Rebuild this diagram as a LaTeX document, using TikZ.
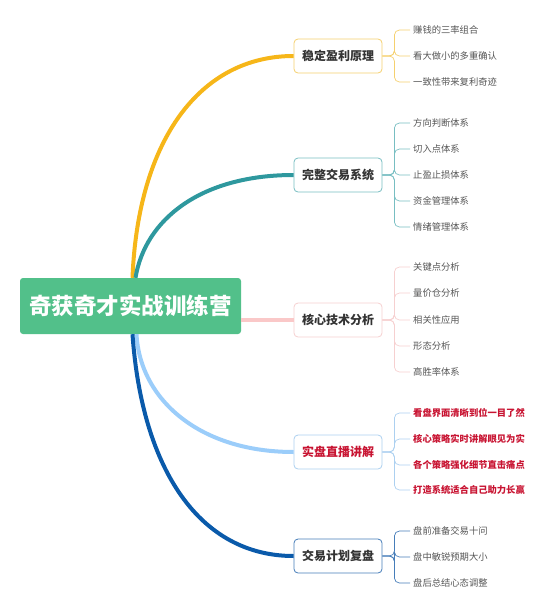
\documentclass[tikz,border=0pt]{standalone}
\usepackage{fontspec}
\setmainfont{Noto Sans CJK SC}
\definecolor{rootgreen}{RGB}{82,192,138}
\definecolor{ambr}{RGB}{246,182,25}
\definecolor{ambrlight}{RGB}{245,208,110}
\definecolor{teal}{RGB}{46,152,158}
\definecolor{teallight}{RGB}{120,190,194}
\definecolor{rose}{RGB}{250,200,200}
\definecolor{roselight}{RGB}{246,208,208}
\definecolor{sky}{RGB}{155,205,250}
\definecolor{skylight}{RGB}{172,208,240}
\definecolor{navy}{RGB}{10,90,170}
\definecolor{navylight}{RGB}{70,125,185}
\definecolor{leafgray}{RGB}{85,85,85}
\definecolor{topicgray}{RGB}{51,51,51}
\definecolor{livered}{RGB}{200,20,50}
\begin{document}
\begin{tikzpicture}[x=1pt,y=-1pt]
        \tikzset{
          rootbox/.style = {shape=rectangle, rounded corners=3pt, fill=rootgreen, text=white,
                            minimum width=221pt, minimum height=56pt, inner sep=0pt,
                            font=\fontsize{22.5}{26}\selectfont\bfseries},
          topic/.style = {shape=rectangle, rounded corners=4pt, draw, line width=0.8pt, fill=white,
                          minimum width=88pt, minimum height=34pt, inner sep=0pt, text=topicgray,
                          font=\fontsize{12}{14}\selectfont\bfseries},
          leaf/.style = {anchor=west, inner sep=3pt, text=leafgray, font=\fontsize{9.3}{11}\selectfont},
          hotleaf/.style = {leaf, text=livered, font=\fontsize{9.3}{11}\selectfont\bfseries},
          bough/.style = {line width=4pt},
          twig/.style = {rounded corners=5pt, line width=0.7pt}
        }

        \useasboundingbox (0, 0) rectangle (552, 614);

        \node[rootbox] (root) at (130.5, 306) {奇获奇才实战训练营};

        \node[topic, draw=ambrlight] (b1) at (338, 56) {稳定盈利原理};
        \node[topic, draw=teallight] (b2) at (338, 175) {完整交易系统};
        \node[topic, draw=roselight] (b3) at (338, 320) {核心技术分析};
        \node[topic, draw=skylight, text=livered] (b4) at (338, 452) {实盘直播讲解};
        \node[topic, draw=navylight] (b5) at (338, 556) {交易计划复盘};

        \node[leaf] (l11) at (410, 30) {赚钱的三率组合};
        \node[leaf] (l12) at (410, 56) {看大做小的多重确认};
        \node[leaf] (l13) at (410, 82) {一致性带来复利奇迹};

        \node[leaf] (l21) at (410, 123) {方向判断体系};
        \node[leaf] (l22) at (410, 149) {切入点体系};
        \node[leaf] (l23) at (410, 175) {止盈止损体系};
        \node[leaf] (l24) at (410, 201) {资金管理体系};
        \node[leaf] (l25) at (410, 227) {情绪管理体系};

        \node[leaf] (l31) at (410, 267) {关键点分析};
        \node[leaf] (l32) at (410, 293) {量价仓分析};
        \node[leaf] (l33) at (410, 320) {相关性应用};
        \node[leaf] (l34) at (410, 346) {形态分析};
        \node[leaf] (l35) at (410, 372) {高胜率体系};

        \node[hotleaf] (l41) at (410, 413) {看盘界面清晰到位一目了然};
        \node[hotleaf] (l42) at (410, 439) {核心策略实时讲解眼见为实};
        \node[hotleaf] (l43) at (410, 465) {各个策略强化细节直击痛点};
        \node[hotleaf] (l44) at (410, 490) {打造系统适合自己助力长赢};

        \node[leaf] (l51) at (410, 531) {盘前准备交易十问};
        \node[leaf] (l52) at (410, 557) {盘中敏锐预期大小};
        \node[leaf] (l53) at (410, 583) {盘后总结心态调整};

        % main branches
        \draw[bough, ambr] ([xshift=2pt]root.north) .. controls (138, 140) and (200, 56) .. (b1.west);
        \draw[bough, teal] ([xshift=5pt]root.north) .. controls (145, 220) and (200, 175) .. (b2.west);
        \draw[bough, rose] (root.east |- b3.west) -- (b3.west);
        \draw[bough, sky] ([xshift=6pt]root.south) .. controls (140, 400) and (200, 452) .. (b4.west);
        \draw[bough, navy] ([xshift=2pt]root.south) .. controls (142, 470) and (200, 556) .. (b5.west);

        % leaves
        \foreach \l in {l11, l12, l13}
          \draw[twig, ambrlight] (b1.east) -- ++(12, 0) |- (\l.west);
        \foreach \l in {l21, l22, l23, l24, l25}
          \draw[twig, teallight] (b2.east) -- ++(12, 0) |- (\l.west);
        \foreach \l in {l31, l32, l33, l34, l35}
          \draw[twig, roselight] (b3.east) -- ++(12, 0) |- (\l.west);
        \foreach \l in {l41, l42, l43, l44}
          \draw[twig, skylight] (b4.east) -- ++(12, 0) |- (\l.west);
        \foreach \l in {l51, l52, l53}
          \draw[twig, navylight] (b5.east) -- ++(12, 0) |- (\l.west);

    \end{tikzpicture}
\end{document}
